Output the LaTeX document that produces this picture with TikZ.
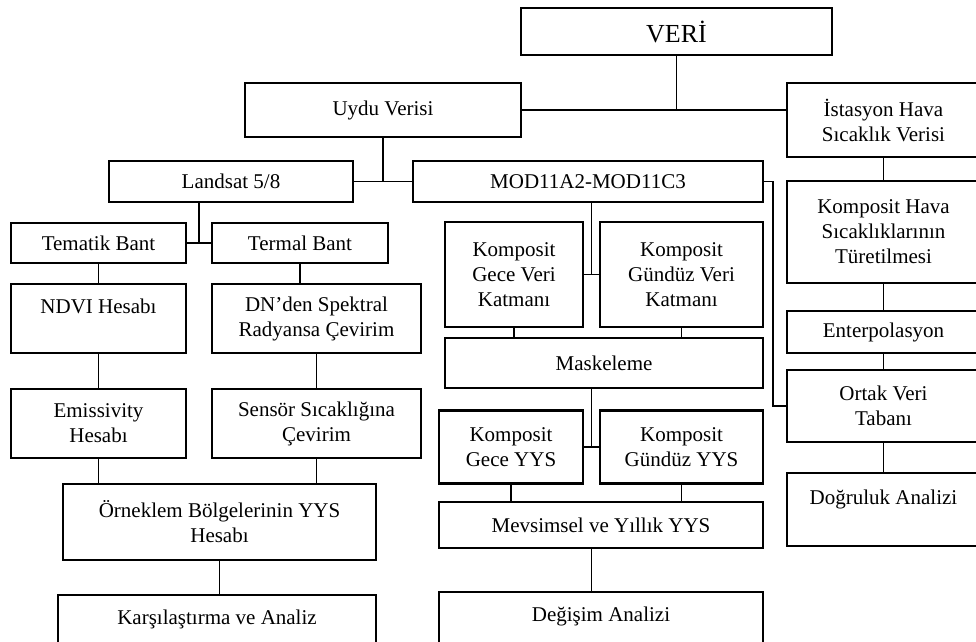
\documentclass[tikz,border=0pt]{standalone}
\usepackage{fontspec}
\setmainfont{Liberation Serif}
\usepackage{tikz}
\usetikzlibrary{calc,positioning}
\definecolor{Ink}{HTML}{000000}
\tikzset{blok/.style={draw=Ink,line width=2.6pt,align=center,inner sep=2pt,font=\fontsize{21}{25}\selectfont},baslik/.style={blok,font=\fontsize{26}{30}\selectfont},hat/.style={draw=Ink,line width=1.9pt}}

\begin{document}
\begin{tikzpicture}[x=1pt,y=-1pt]
        \useasboundingbox (0,0) rectangle (976,641);
        % ust seviye
        \node[baslik,minimum width=311pt,minimum height=47pt] (veri) at (676.5,31.5){VERİ};
        \node[blok,minimum width=276pt,minimum height=54pt] (uydu) at (383,110){Uydu Verisi};
        \node[blok,minimum width=193pt,minimum height=74pt] (istasyon) at (883.5,120){İstasyon Hava\\Sıcaklık Verisi};
        \node[blok,minimum width=244pt,minimum height=41pt] (landsat) at (231,181.5){Landsat 5/8};
        \node[blok,minimum width=350pt,minimum height=41pt] (mod) at (588,181.5){MOD11A2-MOD11C3};
        % Landsat kolu
        \node[blok,minimum width=175pt,minimum height=40pt] (tematik) at (98.5,243){Tematik Bant};
        \node[blok,minimum width=176pt,minimum height=40pt] (termal) at (300,243){Termal Bant};
        \node[blok,minimum width=175pt,minimum height=69pt] (ndvi) at (98.5,318.5){NDVI Hesabı\\~};
        \node[blok,minimum width=209pt,minimum height=69pt] (dn) at (316.5,318.5){DN’den Spektral\\Radyansa Çevirim};
        \node[blok,minimum width=175pt,minimum height=69pt] (emis) at (98.5,423.5){Emissivity\\Hesabı};
        \node[blok,minimum width=209pt,minimum height=69pt] (sensor) at (316.5,423.5){Sensör Sıcaklığına\\Çevirim};
        \node[blok,minimum width=313pt,minimum height=76pt] (orneklem) at (219.5,522){Örneklem Bölgelerinin YYS\\Hesabı};
        \node[blok,minimum width=318pt,minimum height=70pt] (karsi) at (217,630){Karşılaştırma ve Analiz\\~};
        % MODIS kolu
        \node[blok,minimum width=138pt,minimum height=105pt] (geceVeri) at (514,274.5){Komposit\\Gece Veri\\Katmanı};
        \node[blok,minimum width=163pt,minimum height=105pt] (gunduzVeri) at (681.5,274.5){Komposit\\Gündüz Veri\\Katmanı};
        \node[blok,minimum width=318pt,minimum height=50pt] (maske) at (604,363){Maskeleme};
        \node[blok,minimum width=144pt,minimum height=73pt] (geceYYS) at (511,447){Komposit\\Gece YYS};
        \node[blok,minimum width=163pt,minimum height=73pt] (gunduzYYS) at (681.5,447){Komposit\\Gündüz YYS};
        \node[blok,minimum width=324pt,minimum height=46pt] (mevsim) at (601,525){Mevsimsel ve Yıllık YYS};
        \node[blok,minimum width=324pt,minimum height=70pt] (degisim) at (601,627){Değişim Analizi\\~};
        % istasyon kolu
        \node[blok,minimum width=193pt,minimum height=102pt] (kompHava) at (883.5,232){Komposit Hava\\Sıcaklıklarının\\Türetilmesi};
        \node[blok,minimum width=193pt,minimum height=42pt] (enterp) at (883.5,332){Enterpolasyon};
        \node[blok,minimum width=193pt,minimum height=72pt] (ortak) at (883.5,406){Ortak Veri\\Tabanı};
        \node[blok,minimum width=193pt,minimum height=73pt] (dogruluk) at (883.5,509.5){Doğruluk Analizi\\~};
        % baglantilar
        \coordinate (m1) at ($(geceVeri.east)!.5!(gunduzVeri.west)$);
        \coordinate (m2) at ($(geceYYS.east)!.5!(gunduzYYS.west)$);
        \coordinate (m3) at ($(tematik.east)!.5!(termal.west)$);
        \coordinate (k) at (773,0);
        \draw[hat] (uydu.east) -- (uydu.east -| istasyon.west);
        \draw[hat] (veri.south) -- (veri.south |- uydu.east);
        \draw[hat] (landsat.east) -- (mod.west);
        \draw[hat] (uydu.south) -- (uydu.south |- landsat.east);
        \draw[hat] (tematik.east) -- (termal.west);
        \draw[hat] (m3) -- (m3 |- landsat.south);
        \draw[hat] (geceVeri.east) -- (gunduzVeri.west);
        \draw[hat] (m1) -- (m1 |- mod.south);
        \draw[hat] (geceYYS.east) -- (gunduzYYS.west);
        \draw[hat] (m2) -- (m2 |- maske.south);
        \draw[hat] (m2 |- mevsim.south) -- (m2 |- degisim.north);
        \draw[hat] (mod.east) -- (mod.east -| k) |- (ortak.west);
        \foreach \a/\b in {tematik/ndvi,termal/dn,ndvi/emis,dn/sensor,orneklem/karsi,istasyon/kompHava,kompHava/enterp,enterp/ortak,ortak/dogruluk}
          \draw[hat] (\a.south) -- (\a.south |- \b.north);
        \foreach \a/\b in {emis/orneklem,sensor/orneklem,geceVeri/maske,gunduzVeri/maske,geceYYS/mevsim,gunduzYYS/mevsim}
          \draw[hat] (\a.south) -- (\a.south |- \b.north);
      \end{tikzpicture}
\end{document}
